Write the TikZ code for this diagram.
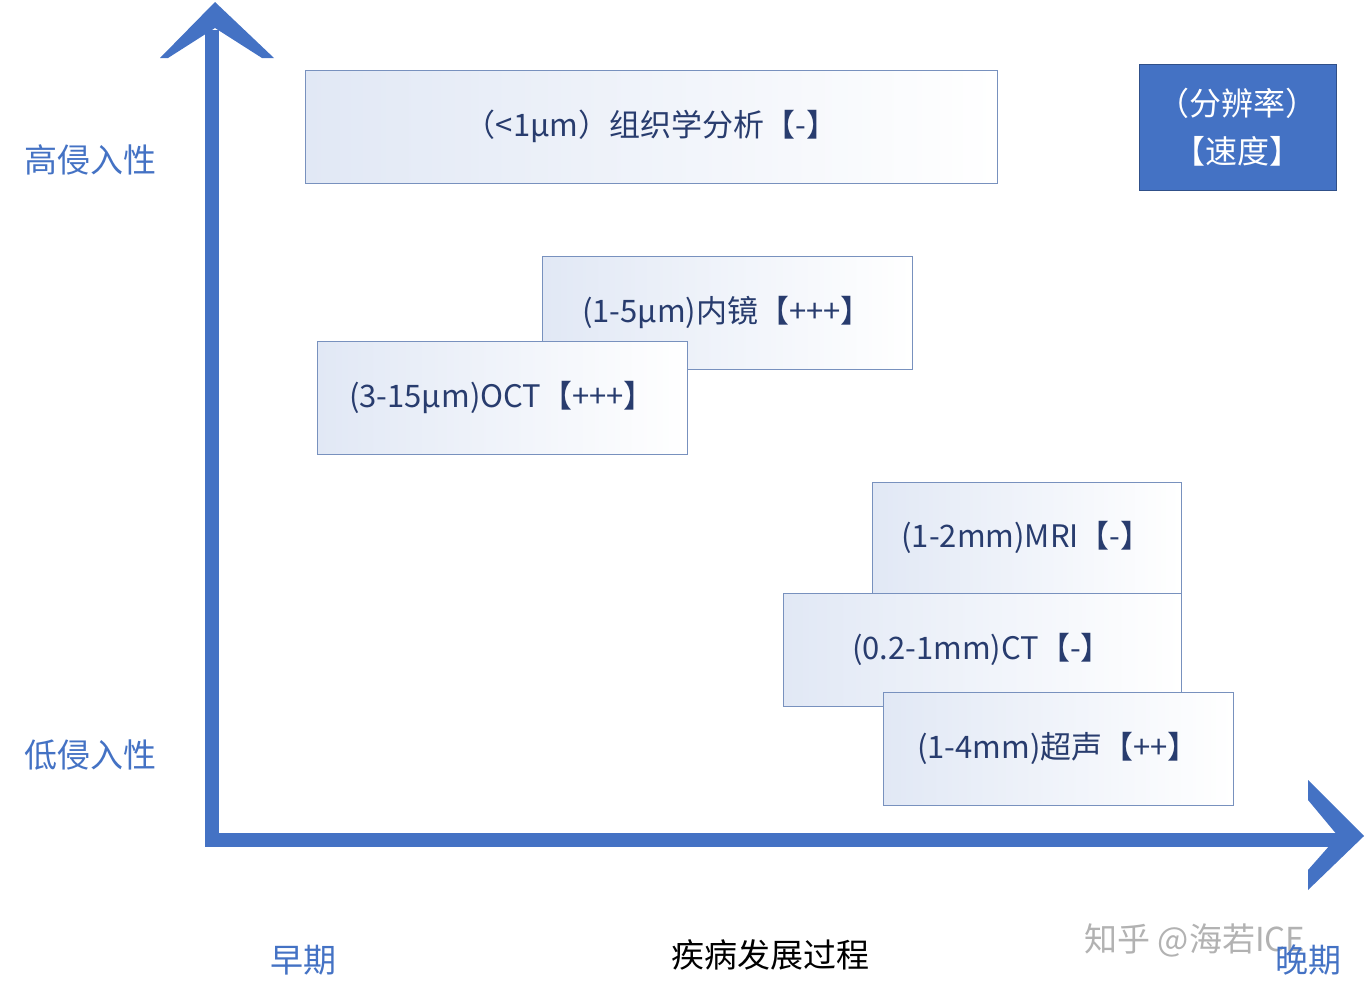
\documentclass[tikz,border=0pt]{standalone}
\usepackage{fontspec}
\setmainfont{Noto Sans CJK SC}
\definecolor{ax}{RGB}{68,114,196}
\definecolor{bd}{RGB}{120,145,190}
\definecolor{lb}{RGB}{225,232,245}
\definecolor{tx}{RGB}{40,60,110}
\begin{document}
\begin{tikzpicture}[x=1pt,y=-1pt,
  bx/.style={draw=bd,line width=1pt,left color=lb,right color=white,text=tx,font=\fontsize{31}{34}\selectfont},
  lab/.style={text=ax,font=\fontsize{33}{36}\selectfont},
  axis/.style={draw=ax,line width=14pt}]
\useasboundingbox (0,0) rectangle (1366,997);
\coordinate (o) at (212,840);
\coordinate (top) at (212,30);
\coordinate (right) at (1345,840);
\draw[axis] (o) -- (top);
\draw[axis] (o) ++(-7,0) -- (right);
\fill[ax] (160,58) -- (215,2) -- (274,58) -- (262,58) -- (215,28) -- (168,58) -- cycle;
\fill[ax] (1308,780) -- (1364,836) -- (1308,890) -- (1308,870) -- (1338,836) -- (1308,800) -- cycle;
\node[bx,minimum width=692,minimum height=113] (h) at (651,126.5) {（<1μm）组织学分析【-】};
\node[bx,minimum width=370,minimum height=113] (e) at (727,312.5) {(1-5μm)内镜【+++】};
\node[bx,minimum width=370,minimum height=113] (oct) at (502,397.5) {(3-15μm)OCT【+++】};
\node[bx,minimum width=309,minimum height=111] (mri) at (1026.5,537.5) {(1-2mm)MRI【-】};
\node[bx,minimum width=398,minimum height=113] (ct) at (982,649.5) {(0.2-1mm)CT【-】};
\node[bx,minimum width=350,minimum height=113] (us) at (1058,748.5) {(1-4mm)超声【++】};
\node[fill=ax,draw=ax!70!black,minimum width=197,minimum height=126,text=white,align=center,
  font=\fontsize{32}{48}\selectfont] (leg) at (1237.5,127) {（分辨率）\\【速度】};
\node[lab] (hi) at (90,160) {高侵入性};
\node[lab] (lo) at (90,755) {低侵入性};
\node[lab] (early) at (303,960) {早期};
\node[font=\fontsize{33}{36}\selectfont] (dis) at (770,955) {疾病发展过程};
\node[text=gray!60,font=\fontsize{33}{36}\selectfont] (wm) at (1195,940) {知乎 @海若ICE};
\node[lab] (late) at (1308,960) {晚期};
\end{tikzpicture}
\end{document}
